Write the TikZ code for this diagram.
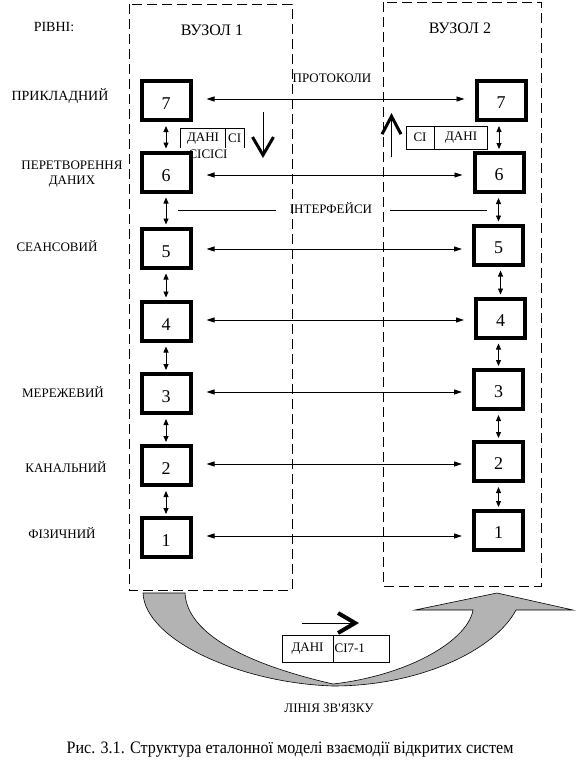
\documentclass[tikz,border=0pt]{standalone}
\usepackage{fontspec}
\setmainfont{Liberation Serif}[Ligatures=TeXOff]
\newfontfamily\capfont{Liberation Serif}[Ligatures=TeXOff,FakeStretch=0.92]
\usetikzlibrary{arrows.meta,calc,positioning}
\definecolor{OSIgray}{HTML}{B3B3B3}
\tikzset{
  layerbox/.style={draw, line width=4pt, minimum width=49pt, minimum height=39pt,
    inner sep=0pt, font=\fontsize{18}{18}\selectfont},
  proto/.style={{Triangle[length=8pt,width=5pt]}-{Triangle[length=8pt,width=5pt]},
    line width=0.8pt, shorten <=14pt, shorten >=10pt},
  updown/.style={{Triangle[length=6pt,width=5pt]}-{Triangle[length=6pt,width=5pt]},
    line width=0.8pt, shorten <=4pt, shorten >=2pt},
  lvl/.style={font=\fontsize{13}{15}\selectfont, align=center, inner sep=0pt},
  pkt/.style={line width=0.6pt, inner sep=0pt, font=\fontsize{13}{13}\selectfont},
  nodeframe/.style={dash pattern=on 10pt off 5pt, line width=0.8pt},
  bigtip/.style={line width=0.8pt, -{Straight Barb[#1]}},
}
\begin{document}
\begin{tikzpicture}[x=1pt,y=-1pt]
  \useasboundingbox (0,0) rectangle (583,777);
  % frames of the two nodes
  \draw[nodeframe] (129,4) rectangle (292,590);
  \draw[nodeframe] (383,2) rectangle (541,586);
  \node[font=\fontsize{16}{16}\selectfont] (title1) at (212,30) {ВУЗОЛ 1};
  \node[font=\fontsize{16}{16}\selectfont] (title2) at (460,28) {ВУЗОЛ 2};
  \node[font=\fontsize{14}{14}\selectfont] (levels) at (54,27) {РІВНІ:};

  % level names
  \node[lvl, font=\fontsize{14}{15}\selectfont] (n7) at (60,96) {ПРИКЛАДНИЙ};
  \node[lvl] (n6) at (72,174) {ПЕРЕТВОРЕННЯ\\ДАНИХ};
  \node[lvl] (n5) at (57,246) {СЕАНСОВИЙ};
  \node[lvl] (n3) at (63,392) {МЕРЕЖЕВИЙ};
  \node[lvl] (n2) at (66,467) {КАНАЛЬНИЙ};
  \node[lvl] (n1) at (62,533) {ФІЗИЧНИЙ};

  % layer boxes
  \foreach \n/\y in {7/100.5,6/172,5/248,4/321,3/393.5,2/465.5,1/537.5}
    \node[layerbox] (L\n) at (166,\y) {\raisebox{-3pt}[12pt][0pt]{\n}};
  \foreach \n/\x/\y in {7/501/100.5,6/499/172.5,5/498.5/245,4/500.5/318,3/498.5/389.5,2/498.5/461.5,1/498.5/530.5}
    \node[layerbox] (R\n) at (\x,\y) {\raisebox{-2pt}[12pt][0pt]{\n}};

  % protocols between peer layers
  \foreach \n/\y in {7/99,6/175,5/249,4/320,3/392,2/464,1/536}
    \draw[proto] (L\n.east |- 0,\y) -- (R\n.west |- 0,\y);
  \node[lvl] (prot) at (332,78) {ПРОТОКОЛИ};

  % interfaces between adjacent layers
  \foreach \a/\b in {7/6,6/5,5/4,4/3,3/2,2/1}{
    \draw[updown] (L\a.south) -- (L\a.south |- L\b.north);
    \draw[updown] (R\b.north |- R\a.south) -- (R\b.north);
  }
  \node[lvl] (intf) at (331,208) {ІНТЕРФЕЙСИ};
  \coordinate (ifL) at (178,210);
  \coordinate (ifR) at (487,210);
  \draw[line width=0.8pt, shorten >=14pt] (ifL) -- (ifL -| intf.west);
  \draw[line width=0.8pt, shorten <=18pt] (ifR -| intf.east) -- (ifR);

  % packet going down in node 1
  \node[pkt, minimum width=44pt, minimum height=19pt] (pLd) at (203,138.5) {ДАНІ};
  \node[pkt, minimum width=18pt, minimum height=19pt, right=0pt of pLd] (pLc) {СІ};
  \draw[pkt] (pLd.south west) |- (pLc.north east) -- (pLc.south east);
  \draw[pkt] (pLd.north east) -- (pLd.south east);
  \node[pkt] (hdrs) at (208,154) {СІСІСІ};
  \coordinate (dnA) at (263,112);
  \coordinate (dnB) at (263,158);
  \draw[bigtip={length=18pt,width=21pt,line width=3pt}] (dnA) -- (dnB);

  % packet going up in node 2
  \node[pkt, draw, minimum width=28pt, minimum height=23pt] (pRc) at (420,137.5) {СІ};
  \node[pkt, draw, minimum width=53pt, minimum height=23pt, right=0pt of pRc] (pRd) {ДАНІ};
  \coordinate (upA) at (391.5,157);
  \coordinate (upB) at (391.5,113);
  \draw[bigtip={length=18pt,width=19pt,line width=3pt}] (upA) -- (upB);

  % physical line
  \draw[fill=OSIgray, line width=0.6pt]
    (143,593) .. controls (145,640) and (240,683) .. (333,686)
    .. controls (420,686) and (495,650) .. (516,610)
    -- (573,610) -- (497,593) -- (415,610) -- (473,610)
    .. controls (468,640) and (410,675) .. (333,684)
    .. controls (250,665) and (187,635) .. (185,593) -- cycle;
  \coordinate (lnA) at (302,623);
  \coordinate (lnB) at (359,623);
  \draw[bigtip={length=17pt,width=20pt,line width=4pt}] (lnA) -- (lnB);
  \node[pkt, draw, minimum width=51pt, minimum height=27pt] (pBd) at (307.5,648.5) {ДАНІ};
  \node[pkt, draw, text width=54pt, inner xsep=1pt, align=left, minimum height=27pt,
    right=0pt of pBd] (pBc) {СІ7-1};
  \node[lvl] (line) at (329,708) {ЛІНІЯ ЗВ'ЯЗКУ};

  \node[font=\capfont\fontsize{17.5}{17.5}\selectfont] (cap) at (290,750)
    {Рис. 3.1. Структура еталонної моделі взаємодії відкритих систем};
\end{tikzpicture}
\end{document}
